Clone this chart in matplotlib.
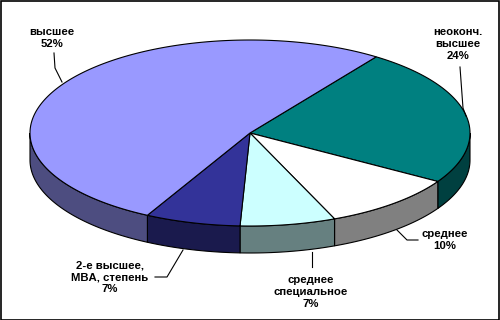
import numpy as np
import matplotlib
matplotlib.use("Agg")
import matplotlib.pyplot as plt
from matplotlib.patches import Polygon, Rectangle
import matplotlib.colors as mcolors

# ---- data ----
labels = ["неоконч.\nвысшее", "среднее", "среднее\nспециальное",
          "2-е высшее,\nMBA, степень", "высшее"]
values = [24, 10, 7, 7, 52]
pct_labels = ["24%", "10%", "7%", "7%", "52%"]
colors = ["#008080", "#FFFFFF", "#CCFFFF", "#333399", "#9999FF"]

# ---- layout (pixel-like coordinates) ----
W, H = 500, 320
cx, cy = 250, 133
a, b = 220, 93
depth = 27
start = 55.0

# label text centre positions and leader lines
label_pos = [(458, 44), (445, 240), (311, 292), (110, 277), (52, 38)]
leaders = [
    [(460, 67), (463, 108), (466, 116)],
    [(418, 240), (407, 240), (397, 230)],
    [(312, 252), (312, 267)],
    [(155, 277), (167, 277), (183, 250)],
    [(54, 53), (55, 68), (62, 82)],
]

fig = plt.figure(figsize=(W / 100, H / 100), dpi=100)
ax = fig.add_axes([0, 0, 1, 1])
ax.set_xlim(0, W)
ax.set_ylim(H, 0)
ax.axis("off")

def pt(t, dy=0.0):
    r = np.radians(t)
    return cx + a * np.cos(r), cy - b * np.sin(r) + dy

total = float(sum(values))
angles = []
t = start
for v in values:
    t2 = t - 360.0 * v / total
    angles.append((t, t2))
    t = t2

def side_color(c):
    r, g, bb = mcolors.to_rgb(c)
    return (r * 0.5, g * 0.5, bb * 0.5)

# sides
for (t1, t2), c in zip(angles, colors):
    lo, hi = max(t2, -180.0), min(t1, 0.0)
    if hi > lo:
        ts = np.linspace(hi, lo, 80)
        top = [pt(x) for x in ts]
        bot = [pt(x, depth) for x in ts[::-1]]
        ax.add_patch(Polygon(top + bot, closed=True, facecolor=side_color(c),
                             edgecolor="black", linewidth=0.8, zorder=1))

# tops
for (t1, t2), c in zip(angles, colors):
    ts = np.linspace(t1, t2, 200)
    pts = [(cx, cy)] + [pt(x) for x in ts]
    ax.add_patch(Polygon(pts, closed=True, facecolor=c, edgecolor="black",
                         linewidth=0.8, zorder=2))

# labels
for lab, pc, (x, y), ld in zip(labels, pct_labels, label_pos, leaders):
    ax.text(x, y, lab + "\n" + pc, ha="center", va="center",
            fontsize=8.2, fontweight="bold", family="Liberation Sans",
            linespacing=1.25, zorder=5)
    xs, ys = zip(*ld)
    ax.plot(xs, ys, color="black", linewidth=0.8, zorder=4)

fig.patches.append(Rectangle((0.5 / W, 0.5 / H), 1 - 1.5 / W, 1 - 1.5 / H,
                             transform=fig.transFigure, fill=False,
                             edgecolor="black", linewidth=1.2))

fig.savefig("out.png", dpi=100)
